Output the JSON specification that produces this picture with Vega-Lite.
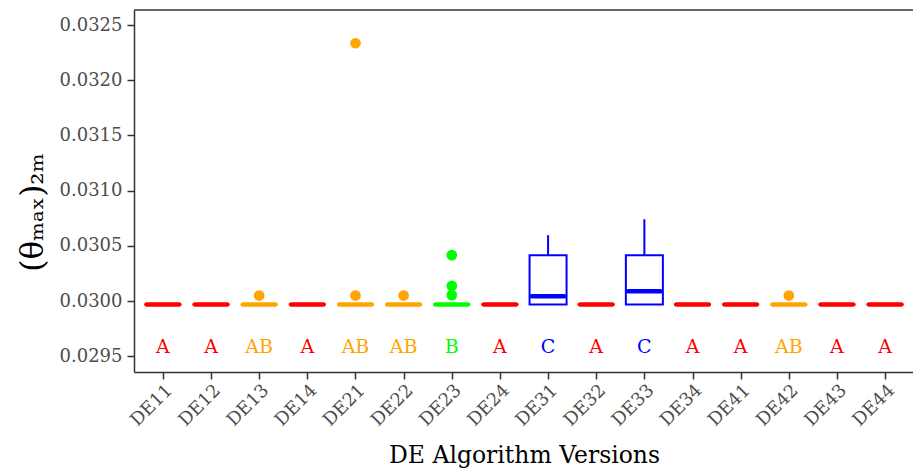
{
  "$schema": "https://vega.github.io/schema/vega-lite/v6.json",
  "width": 780,
  "height": 362,
  "autosize": {"type": "none"},
  "padding": {"left": 134, "top": 10, "right": 0, "bottom": 100},
  "background": "white",
  "config": {
    "view": {"stroke": null},
    "font": "DejaVu Serif",
    "axis": {
      "labelFont": "DejaVu Serif",
      "titleFont": "DejaVu Serif",
      "labelColor": "#4d4d4d",
      "labelFontSize": 18,
      "titleColor": "#000000",
      "titleFontWeight": "normal",
      "tickColor": "#333333",
      "tickWidth": 1.5,
      "tickSize": 7,
      "domainColor": "#333333",
      "domainWidth": 1.5,
      "grid": false
    }
  },
  "datasets": {
    "stats": [
      {"version": "DE11", "letter": "A", "lower": 0.02997, "q1": 0.02997, "median": 0.02997, "q3": 0.02997, "upper": 0.02997},
      {"version": "DE12", "letter": "A", "lower": 0.02997, "q1": 0.02997, "median": 0.02997, "q3": 0.02997, "upper": 0.02997},
      {"version": "DE13", "letter": "AB", "lower": 0.02997, "q1": 0.02997, "median": 0.02997, "q3": 0.02997, "upper": 0.02997},
      {"version": "DE14", "letter": "A", "lower": 0.02997, "q1": 0.02997, "median": 0.02997, "q3": 0.02997, "upper": 0.02997},
      {"version": "DE21", "letter": "AB", "lower": 0.02997, "q1": 0.02997, "median": 0.02997, "q3": 0.02997, "upper": 0.02997},
      {"version": "DE22", "letter": "AB", "lower": 0.02997, "q1": 0.02997, "median": 0.02997, "q3": 0.02997, "upper": 0.02997},
      {"version": "DE23", "letter": "B", "lower": 0.02997, "q1": 0.02997, "median": 0.02997, "q3": 0.02997, "upper": 0.02997},
      {"version": "DE24", "letter": "A", "lower": 0.02997, "q1": 0.02997, "median": 0.02997, "q3": 0.02997, "upper": 0.02997},
      {"version": "DE31", "letter": "C", "lower": 0.02997, "q1": 0.02997, "median": 0.030045, "q3": 0.030416, "upper": 0.030597},
      {"version": "DE32", "letter": "A", "lower": 0.02997, "q1": 0.02997, "median": 0.02997, "q3": 0.02997, "upper": 0.02997},
      {"version": "DE33", "letter": "C", "lower": 0.02997, "q1": 0.02997, "median": 0.03009, "q3": 0.030416, "upper": 0.030741},
      {"version": "DE34", "letter": "A", "lower": 0.02997, "q1": 0.02997, "median": 0.02997, "q3": 0.02997, "upper": 0.02997},
      {"version": "DE41", "letter": "A", "lower": 0.02997, "q1": 0.02997, "median": 0.02997, "q3": 0.02997, "upper": 0.02997},
      {"version": "DE42", "letter": "AB", "lower": 0.02997, "q1": 0.02997, "median": 0.02997, "q3": 0.02997, "upper": 0.02997},
      {"version": "DE43", "letter": "A", "lower": 0.02997, "q1": 0.02997, "median": 0.02997, "q3": 0.02997, "upper": 0.02997},
      {"version": "DE44", "letter": "A", "lower": 0.02997, "q1": 0.02997, "median": 0.02997, "q3": 0.02997, "upper": 0.02997}
    ],
    "outliers": [
      {"version": "DE13", "letter": "AB", "value": 0.03005},
      {"version": "DE21", "letter": "AB", "value": 0.032335},
      {"version": "DE21", "letter": "AB", "value": 0.03005},
      {"version": "DE22", "letter": "AB", "value": 0.03005},
      {"version": "DE23", "letter": "B", "value": 0.030416},
      {"version": "DE23", "letter": "B", "value": 0.030138},
      {"version": "DE23", "letter": "B", "value": 0.030054},
      {"version": "DE42", "letter": "AB", "value": 0.03005}
    ],
    "frame": [{"top": 0.032636}]
  },
  "layer": [
    {
      "data": {"name": "stats"},
      "mark": {"type": "rule", "strokeWidth": 2},
      "encoding": {
        "x": {"field": "version", "type": "nominal", "sort": null,
              "scale": {"type": "point", "padding": 0.6},
              "axis": {"title": "DE Algorithm Versions", "titleFontSize": 23.5, "labelAngle": -45, "labelAlign": "right", "labelBaseline": "top", "labelPadding": 2, "titlePadding": 14}},
        "y": {"field": "q3", "type": "quantitative",
              "scale": {"domain": [0.029358, 0.032636], "nice": false, "zero": false},
              "axis": {"title": "(θₘₐₓ)₂ₘ", "titleFontSize": 31, "titlePadding": 10, "titleY": 202, "values": [0.0295, 0.03, 0.0305, 0.031, 0.0315, 0.032, 0.0325], "format": ".4f", "labelPadding": 5}},
        "y2": {"field": "upper"},
        "stroke": {"field": "letter", "type": "nominal", "legend": null,
                   "scale": {"domain": ["A", "AB", "B", "C"], "range": ["#FF0000", "#FFA500", "#00FF00", "#0000FF"]}}
      }
    },
    {
      "data": {"name": "stats"},
      "mark": {"type": "bar", "size": 37, "fill": "white", "strokeWidth": 2},
      "encoding": {
        "x": {"field": "version", "type": "nominal", "sort": null},
        "y": {"field": "q1", "type": "quantitative"},
        "y2": {"field": "q3"},
        "stroke": {"field": "letter", "type": "nominal", "legend": null}
      }
    },
    {
      "data": {"name": "stats"},
      "mark": {"type": "tick", "size": 37, "thickness": 4.5, "cornerRadius": 2.2, "opacity": 1},
      "encoding": {
        "x": {"field": "version", "type": "nominal", "sort": null},
        "y": {"field": "median", "type": "quantitative"},
        "color": {"field": "letter", "type": "nominal", "legend": null,
                  "scale": {"domain": ["A", "AB", "B", "C"], "range": ["#FF0000", "#FFA500", "#00FF00", "#0000FF"]}}
      }
    },
    {
      "data": {"name": "outliers"},
      "mark": {"type": "circle", "size": 115, "opacity": 1},
      "encoding": {
        "x": {"field": "version", "type": "nominal", "sort": null},
        "y": {"field": "value", "type": "quantitative"},
        "color": {"field": "letter", "type": "nominal", "legend": null}
      }
    },
    {
      "data": {"name": "stats"},
      "mark": {"type": "text", "fontSize": 19, "font": "DejaVu Serif", "baseline": "middle", "align": "center"},
      "encoding": {
        "x": {"field": "version", "type": "nominal", "sort": null},
        "y": {"datum": 0.029584, "type": "quantitative"},
        "text": {"field": "letter"},
        "color": {"field": "letter", "type": "nominal", "legend": null}
      }
    },
    {
      "data": {"name": "frame"},
      "mark": {"type": "rule", "color": "#333333", "strokeWidth": 1.5},
      "encoding": {
        "y": {"field": "top", "type": "quantitative"}
      }
    }
  ]
}
